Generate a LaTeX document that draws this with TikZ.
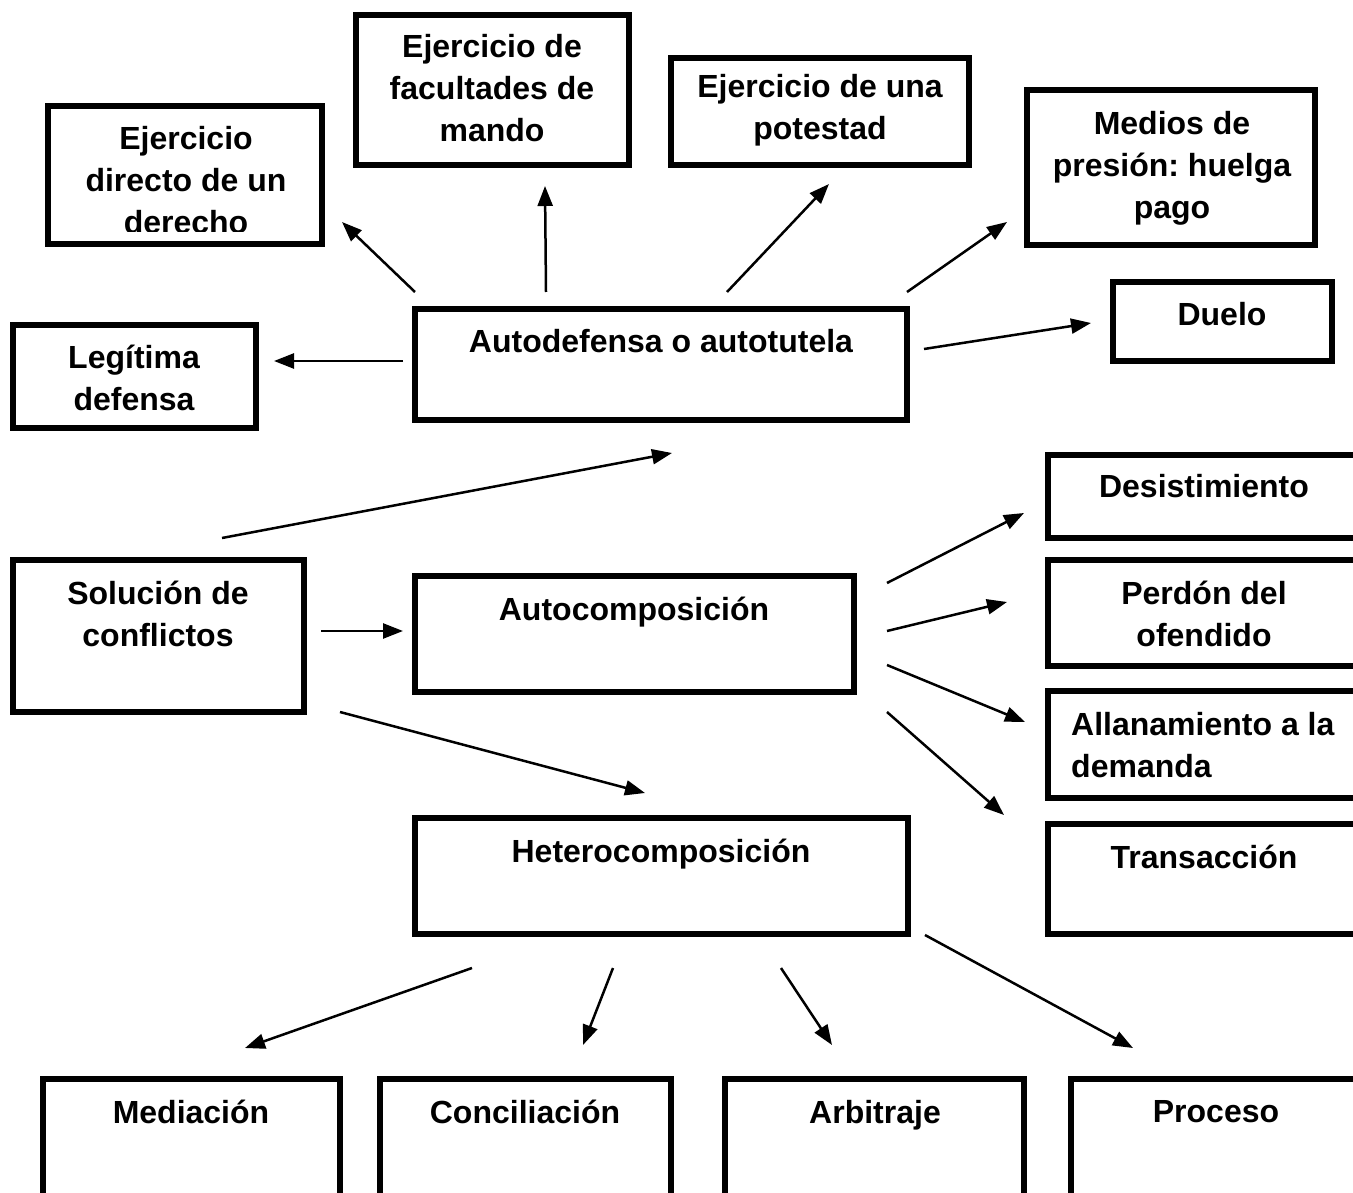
\documentclass[tikz,border=0pt]{standalone}
\usepackage{fontspec}
\setmainfont{Liberation Sans}
\usetikzlibrary{arrows.meta}
\frenchspacing

\begin{document}
\begin{tikzpicture}[x=1pt, y=-1pt,
    box/.style={line width=6pt},
    lbl/.style={font=\bfseries\fontsize{32}{42}\selectfont, align=center, inner sep=0pt},
    arr/.style={line width=2.5pt, -{Triangle[length=20pt, width=15pt]}}]
  \fill[white] (0, 0) rectangle (1353, 1193);
  \useasboundingbox (0, 0) rectangle (1353, 1193);
  \clip (0, 0) rectangle (1353, 1193);

  % upper row: kinds of autodefensa
  \begin{scope}
    \clip (48, 106) rectangle (322, 232);
    \node[lbl] (derecho) at (186, 180) {Ejercicio\\directo de un\\derecho};
  \end{scope}
  \draw[box] (48, 106) rectangle (322, 244);
  \draw[box] (356, 15) rectangle (629, 165);
  \node[lbl] (mando) at (492, 88) {Ejercicio de\\facultades de\\mando};
  \draw[box] (671, 58) rectangle (969, 165);
  \node[lbl] (potestad) at (820, 110) {Ejercicio de una\\potestad};
  \draw[box] (1027, 90) rectangle (1315, 245);
  \node[lbl] (presion) at (1172, 168) {Medios de\\presión: huelga\\pago};
  \draw[box] (1113, 282) rectangle (1332, 361);
  \node[lbl] (duelo) at (1222, 314) {Duelo};
  \draw[box] (13, 325) rectangle (256, 428);
  \node[lbl] (legitima) at (134, 378) {Legítima\\defensa};
  \draw[box] (415, 309) rectangle (907, 420);
  \node[lbl] (autodefensa) at (661, 341) {Autodefensa o autotutela};

  % middle
  \draw[box] (13, 560) rectangle (304, 712);
  \node[lbl] (solucion) at (158, 614) {Solución de\\conflictos};
  \draw[box] (415, 576) rectangle (854, 692);
  \node[lbl] (autocomp) at (634, 612) {Autocomposición};
  \draw[box] (415, 818) rectangle (908, 934);
  \node[lbl] (heterocomp) at (661, 854) {Heterocomposición};

  % right column
  \draw[box] (1048, 455) rectangle (1370, 538);
  \node[lbl] (desistimiento) at (1204, 486) {Desistimiento};
  \draw[box] (1048, 560) rectangle (1370, 666);
  \node[lbl] (perdon) at (1204, 614) {Perdón del\\ofendido};
  \draw[box] (1048, 691) rectangle (1370, 798);
  \node[lbl, align=left, anchor=west] (allanamiento) at (1071, 745) {Allanamiento a la\\demanda};
  \draw[box] (1048, 824) rectangle (1370, 934);
  \node[lbl] (transaccion) at (1204, 857) {Transacción};

  % bottom row
  \draw[box] (43, 1079) rectangle (340, 1215);
  \node[lbl] (mediacion) at (191, 1112) {Mediación};
  \draw[box] (380, 1079) rectangle (671, 1215);
  \node[lbl] (conciliacion) at (525, 1112) {Conciliación};
  \draw[box] (725, 1079) rectangle (1024, 1215);
  \node[lbl] (arbitraje) at (875, 1115) {Arbitraje};
  \draw[box] (1071, 1079) rectangle (1370, 1215);
  \node[lbl] (proceso) at (1216, 1112) {Proceso};

  % arrow ends
  \coordinate (a1) at (415, 292);  \coordinate (b1) at (342, 222);
  \coordinate (a2) at (546, 292);  \coordinate (b2) at (545, 186);
  \coordinate (a3) at (727, 292);  \coordinate (b3) at (829, 184);
  \coordinate (a4) at (907, 292);  \coordinate (b4) at (1007, 222);
  \coordinate (a5) at (924, 349);  \coordinate (b5) at (1091, 323);
  \coordinate (a6) at (403, 361);  \coordinate (b6) at (274, 361);
  \coordinate (a7) at (222, 538);  \coordinate (b7) at (672, 453);
  \coordinate (a8) at (321, 631);  \coordinate (b8) at (403, 631);
  \coordinate (a9) at (340, 712);  \coordinate (b9) at (645, 793);
  \coordinate (c1) at (887, 583);  \coordinate (d1) at (1024, 513);
  \coordinate (c2) at (887, 631);  \coordinate (d2) at (1007, 602);
  \coordinate (c3) at (887, 665);  \coordinate (d3) at (1025, 722);
  \coordinate (c4) at (887, 712);  \coordinate (d4) at (1004, 815);
  \coordinate (e1) at (472, 968);  \coordinate (f1) at (245, 1048);
  \coordinate (e2) at (613, 968);  \coordinate (f2) at (583, 1045);
  \coordinate (e3) at (781, 968);  \coordinate (f3) at (832, 1045);
  \coordinate (e4) at (925, 935);  \coordinate (f4) at (1133, 1048);

  \draw[arr] (a1) -- (b1);
  \draw[arr] (a2) -- (b2);
  \draw[arr] (a3) -- (b3);
  \draw[arr] (a4) -- (b4);
  \draw[arr] (a5) -- (b5);
  \draw[arr] (a6) -- (b6);
  \draw[arr] (a7) -- (b7);
  \draw[arr] (a8) -- (b8);
  \draw[arr] (a9) -- (b9);
  \draw[arr] (c1) -- (d1);
  \draw[arr] (c2) -- (d2);
  \draw[arr] (c3) -- (d3);
  \draw[arr] (c4) -- (d4);
  \draw[arr] (e1) -- (f1);
  \draw[arr] (e2) -- (f2);
  \draw[arr] (e3) -- (f3);
  \draw[arr] (e4) -- (f4);
\end{tikzpicture}
\end{document}
